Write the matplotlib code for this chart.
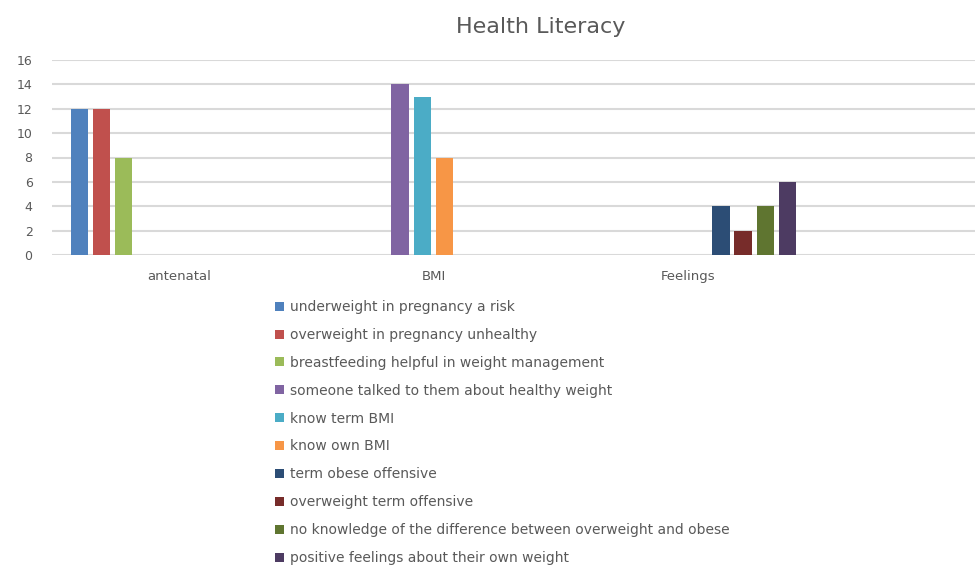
import numpy as np
import matplotlib.pyplot as plt

# data
categories = ["antenatal", "BMI", "Feelings"]
series = ["underweight in pregnancy a risk",
          "overweight in pregnancy unhealthy",
          "breastfeeding helpful in weight management",
          "someone talked to them about healthy weight",
          "know term BMI",
          "know own BMI",
          "term obese offensive",
          "overweight term offensive",
          "no knowledge of the difference between overweight and obese",
          "positive feelings about their own weight"]
values = [[12, 0, 0],
          [12, 0, 0],
          [8, 0, 0],
          [0, 14, 0],
          [0, 13, 0],
          [0, 8, 0],
          [0, 0, 4],
          [0, 0, 2],
          [0, 0, 4],
          [0, 0, 6]]
colors = ["#4F81BD", "#C0504D", "#9BBB59", "#8064A2", "#4BACC6",
          "#F79646", "#2C4D75", "#772C2A", "#5F7530", "#4D3B62"]

plt.rcParams['font.family'] = ['DejaVu Sans']

fig = plt.figure(figsize=(9.75, 5.66), dpi=100)
ax = fig.add_axes([52/975, 1-255/566, 1-52/975, 195/566])

x = np.arange(len(categories))
pitch = 0.0872
handles = []
for i, (name, vals, c) in enumerate(zip(series, values, colors)):
    offs = (i - 4.5) * pitch
    h = ax.bar(x + offs, vals, width=0.069, color=c, linewidth=0, label=name, zorder=3)
    handles.append(h)

ax.set_ylim(0, 16)
ax.set_yticks(range(0, 17, 2))
ax.set_xlim(-0.5, 3.13)
ax.set_xticks(x)
ax.set_xticklabels(categories)
ax.yaxis.grid(True, color="#d9d9d9", linewidth=1.5, zorder=0)
for s in ax.spines.values():
    s.set_visible(False)
ax.tick_params(axis="both", length=0, colors="#595959")
ax.tick_params(axis="y", pad=14, labelsize=9)
ax.tick_params(axis="x", pad=11, labelsize=9.5)

fig.text(541/975, 1-27/566, "Health Literacy", ha="center", va="center",
         fontsize=16, color="#595959")

fig.legend(handles=handles, loc="upper left", bbox_to_anchor=(275/975, 1-300/566),
           frameon=False, fontsize=10, handlelength=0.62, handleheight=0.62,
           handletextpad=0.45, labelspacing=1.0, labelcolor="#595959",
           borderaxespad=0, borderpad=0)

fig.savefig("out.png", dpi=100)
